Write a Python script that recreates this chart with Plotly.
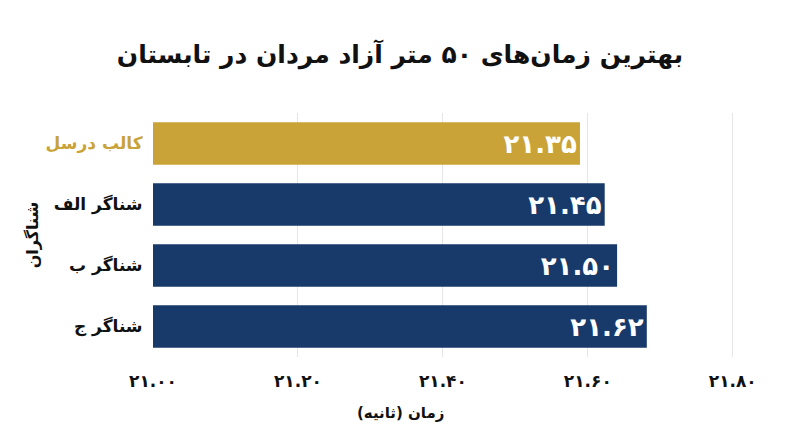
import plotly.graph_objects as go

swimmers = ["کالب درسل", "شناگر الف", "شناگر ب", "شناگر ج"]
times = [21.35, 21.45, 21.50, 21.62]
bar_colors = ["#C9A337", "#173A6A", "#173A6A", "#173A6A"]
label_colors = ["#C9A337", "#111111", "#111111", "#111111"]
tick_values = [21.0, 21.2, 21.4, 21.6, 21.8]

title_text = "بهترین زمان‌های ۵۰ متر آزاد مردان در تابستان"
x_title = "زمان (ثانیه)"
y_title = "شناگران"

FA = str.maketrans("0123456789", "۰۱۲۳۴۵۶۷۸۹")


def fa(v):
    return f"{v:.2f}".translate(FA)


FONT = "DejaVu Sans"

fig = go.Figure()
# invisible trace so the visible time axis is drawn
fig.add_trace(go.Scatter(
    x=[tick_values[0]], y=[swimmers[0]], mode="none",
    xaxis="x", yaxis="y", hoverinfo="skip", showlegend=False,
))
fig.add_trace(go.Bar(
    y=swimmers,
    x=times,
    orientation="h",
    marker=dict(color=bar_colors, line=dict(width=0)),
    text=[fa(t) for t in times],
    textposition="inside",
    insidetextanchor="end",
    textfont=dict(family=FONT, size=26, color="white", weight="bold"),
    constraintext="none",
    xaxis="x2",
    yaxis="y",
    hoverinfo="skip",
))

fig.update_layout(
    width=800,
    height=447,
    paper_bgcolor="white",
    plot_bgcolor="white",
    showlegend=False,
    margin=dict(l=153, r=31, t=113, b=90, autoexpand=False),
    bargap=0.305,
    title=dict(
        text="<b>" + title_text + "</b>",
        x=0.5, xanchor="center", xref="container",
        y=1 - 54 / 447, yanchor="middle", yref="container",
        font=dict(family=FONT, size=25, color="#111111"),
    ),
    font=dict(family=FONT, color="#111111"),
    xaxis=dict(
        range=[21.0, 21.85],
        tickvals=tick_values,
        ticktext=[fa(v) for v in tick_values],
        tickfont=dict(family=FONT, size=17, color="#111111", weight="bold"),
        showgrid=True,
        gridcolor="#E6E6E6",
        gridwidth=1,
        zeroline=False,
        showline=False,
        ticks="outside",
        ticklen=9,
        tickcolor="rgba(0,0,0,0)",
        fixedrange=True,
        automargin=False,
    ),
    xaxis2=dict(
        overlaying="x",
        anchor="y",
        range=[19.626, 22.1134],
        visible=False,
        showgrid=False,
        zeroline=False,
        automargin=False,
    ),
    yaxis=dict(
        autorange="reversed",
        tickvals=swimmers,
        ticktext=[f'<span style="color:{c}"><b>{s}</b></span>' for s, c in zip(swimmers, label_colors)],
        tickfont=dict(family=FONT, size=17),
        ticks="outside",
        ticklen=6,
        tickcolor="rgba(0,0,0,0)",
        showgrid=False,
        zeroline=False,
        showline=False,
        automargin=False,
        title=dict(text="<b>" + y_title + "</b>", font=dict(family=FONT, size=16, color="#111111"), standoff=3),
    ),
    annotations=[
        dict(
            text="<b>" + x_title + "</b>",
            xref="paper", yref="paper",
            x=(400 - 153) / 616, y=-(412 - 356.6) / 243,
            xanchor="center", yanchor="middle",
            showarrow=False,
            font=dict(family=FONT, size=15, color="#111111"),
        )
    ],
)

fig.write_html(
    "out.html",
    config={"displayModeBar": False},
    post_script="document.body.style.margin='0';document.body.style.overflow='hidden';",
)
